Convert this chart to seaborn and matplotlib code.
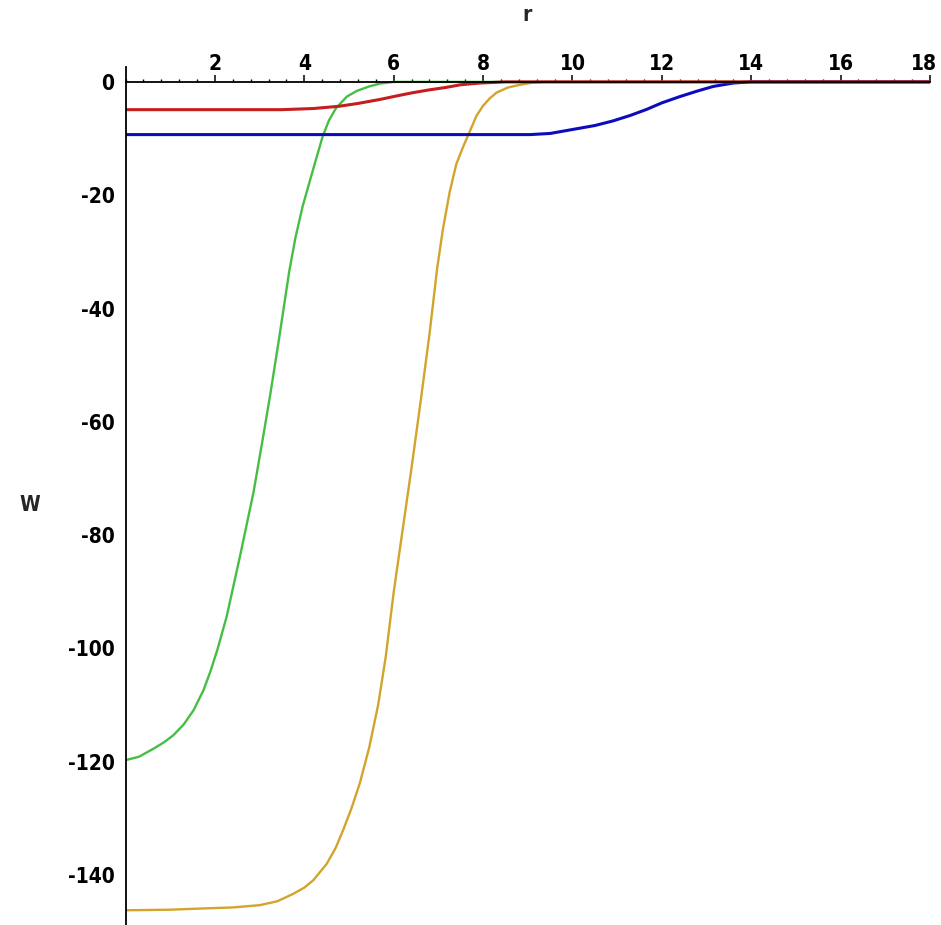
import numpy as np
import pandas as pd
import matplotlib
matplotlib.use("Agg")
import matplotlib.pyplot as plt
from matplotlib.ticker import MultipleLocator
from matplotlib import font_manager
import matplotlib.transforms as mtransforms
import seaborn as sns

# ---- data ----
green_r = [0.0, 0.3, 0.62, 0.85, 1.07, 1.3, 1.52, 1.74, 1.9, 2.05, 2.26, 2.56, 2.86,
           3.08, 3.24, 3.43, 3.66, 3.8, 3.96, 4.19, 4.41, 4.55, 4.71, 4.95, 5.17,
           5.45, 5.69, 6.0, 18.0]
green_w = [-119.7, -119.1, -117.7, -116.6, -115.3, -113.4, -110.9, -107.4, -104.0,
           -100.3, -94.4, -83.7, -72.5, -62.5, -55.0, -45.5, -33.5, -27.5, -22.0,
           -15.6, -9.6, -6.8, -4.6, -2.6, -1.6, -0.8, -0.3, 0.0, 0.0]

gold_r = [0.0, 1.0, 1.66, 2.4, 3.0, 3.4, 3.75, 4.0, 4.2, 4.5, 4.7, 4.87, 5.05, 5.24,
          5.45, 5.65, 5.82, 6.0, 6.2, 6.4, 6.6, 6.8, 6.97, 7.1, 7.25, 7.4, 7.55,
          7.71, 7.85, 8.0, 8.15, 8.3, 8.55, 8.83, 9.1, 9.4, 18.0]
gold_w = [-146.2, -146.1, -145.9, -145.7, -145.3, -144.6, -143.3, -142.2, -140.9,
          -138.0, -135.2, -132.0, -128.3, -123.8, -117.5, -110.0, -101.5, -90.0,
          -79.0, -68.0, -56.5, -44.5, -33.0, -26.0, -19.5, -14.5, -11.5, -8.6,
          -6.0, -4.2, -2.9, -1.9, -1.0, -0.5, -0.15, 0.0, 0.0]

blue_r = [0.0, 9.05, 9.5, 10.0, 10.5, 10.9, 11.3, 11.66, 12.0, 12.4, 12.8, 13.15,
          13.6, 14.0, 18.0]
blue_w = [-9.3, -9.3, -9.1, -8.4, -7.7, -6.9, -5.9, -4.85, -3.7, -2.6, -1.6, -0.8,
          -0.2, 0.0, 0.0]

red_r = [0.0, 3.5, 4.2, 4.78, 5.2, 5.69, 6.05, 6.43, 6.8, 7.15, 7.5, 7.93, 8.5, 18.0]
red_w = [-4.9, -4.9, -4.7, -4.3, -3.8, -3.1, -2.5, -1.9, -1.4, -1.0, -0.5, -0.2,
         0.0, 0.0]

x_ticks = [2, 4, 6, 8, 10, 12, 14, 16, 18]
y_ticks = [0, -20, -40, -60, -80, -100, -120, -140]

series = [
    ("green", green_r, green_w, "#46BE46", 1.7),
    ("gold", gold_r, gold_w, "#D2A42C", 1.7),
    ("blue", blue_r, blue_w, "#0C0CBE", 2.2),
    ("red", red_r, red_w, "#C41E1E", 2.2),
]

sns.set_style("white")
plt.rcParams["font.family"] = ["DejaVu Sans"]
FP = dict(family="DejaVu Sans", weight="bold", stretch="condensed", size=15)

fig = plt.figure(figsize=(9.41, 9.25), dpi=100)
ax = fig.add_axes([0.1335, 0.0, 0.8548, 0.928])

for name, r, w, col, lw in series:
    df = pd.DataFrame({"r": r, "W": w})
    sns.lineplot(data=df, x="r", y="W", ax=ax, color=col, linewidth=lw,
                 sort=False, estimator=None, zorder=2)

ax.set_xlim(0, 18)
ax.set_ylim(-148.8, 2.7)

# Maple-like axes: x axis at W=0 with labels above, y axis at r=0
ax.spines["bottom"].set_visible(False)
ax.spines["right"].set_visible(False)
ax.spines["top"].set_position(("data", 0))
for s in ("top", "left"):
    ax.spines[s].set_color("black")
    ax.spines[s].set_linewidth(1.3)
    ax.spines[s].set_zorder(3)
ax.xaxis.set_ticks_position("top")
ax.xaxis.set_label_position("top")

ax.set_xticks(x_ticks)
ax.set_xticklabels([str(t) for t in x_ticks], fontdict=FP)
ax.set_yticks(y_ticks)
ax.set_yticklabels([str(t) for t in y_ticks], fontdict=FP)
ax.xaxis.set_minor_locator(MultipleLocator(0.4))
ax.yaxis.set_minor_locator(MultipleLocator(4))

ax.tick_params(axis="both", which="major", direction="out", length=5, width=1.1,
               colors="black")
ax.tick_params(axis="x", which="major", pad=1)
ax.tick_params(axis="y", which="major", pad=3)
ax.tick_params(axis="both", which="minor", direction="out", length=2.5, width=1.0,
               colors="black")

# keep the last x label ("18") inside the canvas
last = ax.get_xticklabels()[-1]
last.set_transform(last.get_transform() +
                   mtransforms.ScaledTranslation(-6 / 100, 0, fig.dpi_scale_trans))

ax.set_xlabel("")
ax.set_ylabel("")
fig.text(527 / 941, 1 - 15 / 925, "r", ha="center", va="center", fontdict=FP)
fig.text(30 / 941, 1 - 505 / 925, "W", ha="center", va="center", fontdict=FP)

fig.savefig("out.png", dpi=100)
